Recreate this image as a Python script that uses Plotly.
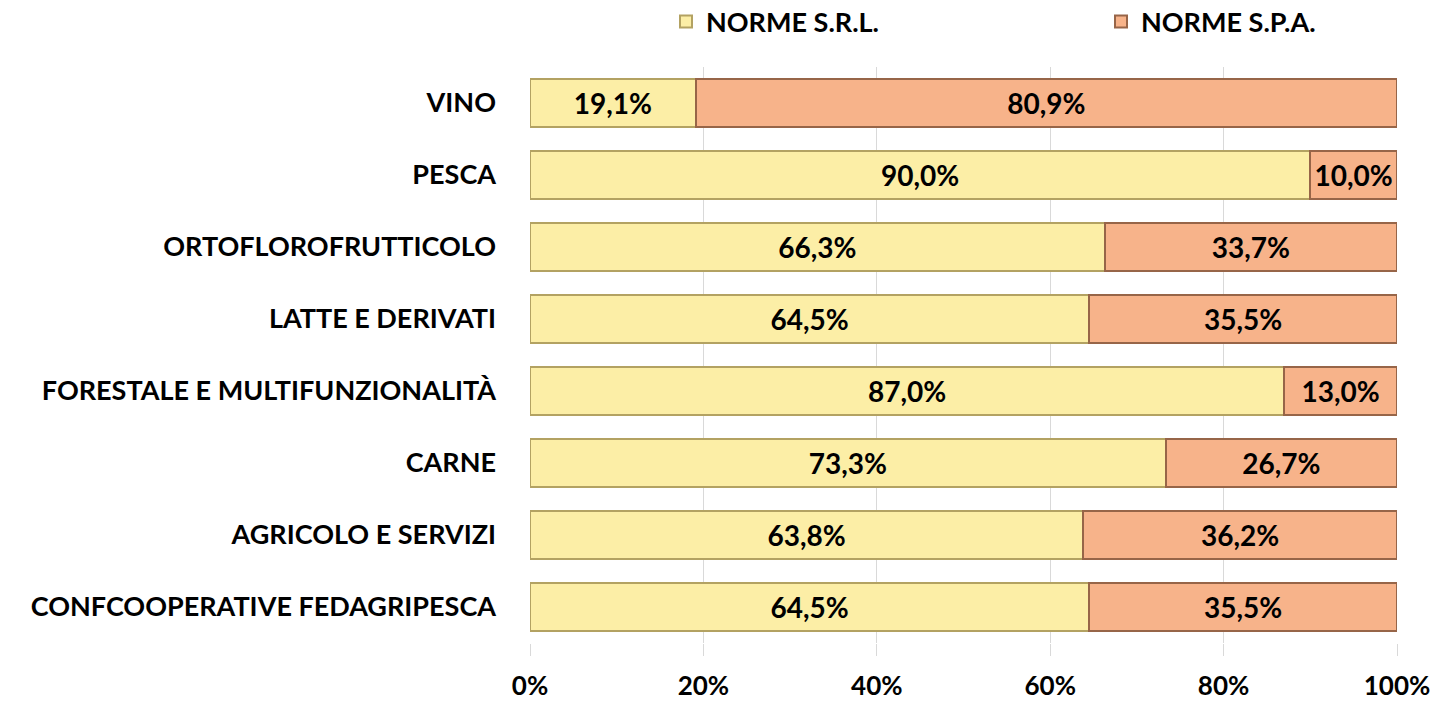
import plotly.graph_objects as go

categories = ["VINO", "PESCA", "ORTOFLOROFRUTTICOLO", "LATTE E DERIVATI",
              "FORESTALE E MULTIFUNZIONALITÀ", "CARNE", "AGRICOLO E SERVIZI",
              "CONFCOOPERATIVE FEDAGRIPESCA"]
srl = [19.1, 90.0, 66.3, 64.5, 87.0, 73.3, 63.8, 64.5]
spa = [80.9, 10.0, 33.7, 35.5, 13.0, 26.7, 36.2, 35.5]
tick_vals = [0, 20, 40, 60, 80, 100]
tick_text = ["0%", "20%", "40%", "60%", "80%", "100%"]

FONT = "Lato, Open Sans, sans-serif"
FS = 27
FS_BAR = 28

def fmt(v):
    return f"{v:.1f}%".replace(".", ",")

fig = go.Figure()
fig.add_trace(go.Bar(
    y=categories, x=srl, orientation="h", name="NORME S.R.L.",
    marker=dict(color="#FCEEA6", line=dict(color="#B3A262", width=2)),
    text=[fmt(v) for v in srl], textposition="inside", insidetextanchor="middle",
    textfont=dict(color="black", size=FS_BAR, family=FONT, weight="bold"),
))
fig.add_trace(go.Bar(
    y=categories, x=spa, orientation="h", name="NORME S.P.A.",
    marker=dict(color="#F7B38A", line=dict(color="#976548", width=2)),
    text=[fmt(v) for v in spa], textposition="inside", insidetextanchor="middle",
    textfont=dict(color="black", size=FS_BAR, family=FONT, weight="bold"),
))

fig.update_layout(
    barmode="stack", bargap=0.33,
    width=1448, height=705,
    margin=dict(l=530, r=51, t=67, b=62, autoexpand=False),
    paper_bgcolor="white", plot_bgcolor="white",
    font=dict(family=FONT, size=FS, color="black", weight="bold"),
    uniformtext=dict(mode="show", minsize=10),
    legend=dict(orientation="h", traceorder="normal",
                x=(666 - 530) / 867, xanchor="left", y=1.078, yanchor="middle",
                entrywidth=390, itemwidth=30,
                font=dict(size=FS, family=FONT, weight="bold", color="black"),
                bgcolor="rgba(0,0,0,0)"),
    xaxis=dict(range=[0, 100], tickvals=tick_vals, ticktext=tick_text,
               showgrid=True, gridcolor="#D9D9D9", gridwidth=1,
               ticks="outside", ticklen=12, tickcolor="#D9D9D9",
               ticklabelstandoff=8, zeroline=False, showline=False,
               tickfont=dict(size=26, family=FONT, weight="bold")),
    yaxis=dict(autorange="reversed", showgrid=False, ticks="",
               ticklabelstandoff=33, showline=False,
               tickfont=dict(size=FS, family=FONT, weight="bold")),
)

fig.write_html("out.html", config={"displayModeBar": False},
               post_script="document.body.style.margin='0';document.body.style.overflow='hidden';")
